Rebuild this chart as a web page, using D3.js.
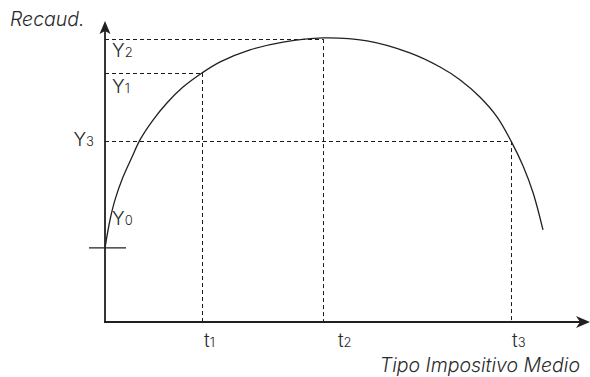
<!DOCTYPE html>
<html><head><meta charset="utf-8">
<script src="https://cdn.jsdelivr.net/npm/d3@7"></script>
<style>
html,body{margin:0;padding:0;background:#fff;}
text{font-family:"Inter","Liberation Sans",sans-serif;font-weight:300;fill:#2a2a2a;}
</style></head>
<body>
<svg id="chart" width="590" height="377"></svg>
<script>
// Curve: tax rate (x) vs revenue (y), arbitrary units 0..100
const curveX = [0, 1.04, 2.08, 3.75, 5.63, 7.29, 10, 12.9, 16.25, 20.2, 24, 30.2, 37.1, 45.4, 54.6, 63.5, 69.8, 74, 78.1, 81.7, 84.6, 87.1, 89.2, 91.25];
const curveY = [24.7, 34, 40.7, 48.3, 55, 60.7, 67.3, 73, 78.3, 83, 86.7, 90.7, 93.3, 94.7, 93.7, 89.7, 85, 80.7, 75, 68.3, 60.3, 52, 43, 30.7];
// Reference levels
const tLabels = ["1", "2", "3"];
const tValues = [20.2, 45.4, 84.6];
const yLabels = ["1", "2", "3"];
const yValues = [83, 94.3, 60.3];
const y0Value = 24.7;
const xTitle = "Tipo Impositivo Medio";
const yTitle = "Recaud.";

const svg = d3.select("#chart");
const x = d3.scaleLinear().domain([0, 100]).range([105, 585]);
const y = d3.scaleLinear().domain([0, 100]).range([322, 22]);
const ink = "#231f20";
const crisp = v => Math.round(v) + 0.5;

// dashed guides
const guides = svg.append("g").attr("stroke", "#1a1a1a").attr("stroke-width", 1).attr("stroke-dasharray", "4,3").attr("fill", "none");
tValues.forEach((t, i) => {
  guides.append("line").attr("x1", x(0)).attr("x2", x(t)).attr("y1", crisp(y(yValues[i]))).attr("y2", crisp(y(yValues[i])));
  guides.append("line").attr("x1", crisp(x(t))).attr("x2", crisp(x(t))).attr("y1", y(yValues[i])).attr("y2", y(0));
});

// curve
const pts = curveX.map((d, i) => [d, curveY[i]]);
svg.append("path").datum(pts)
  .attr("d", d3.line().x(d => x(d[0])).y(d => y(d[1])).curve(d3.curveCatmullRom.alpha(0.5)))
  .attr("fill", "none").attr("stroke", ink).attr("stroke-width", 1.3);

// axes
svg.append("line").attr("x1", x(0)).attr("x2", x(0)).attr("y1", y(0) + 1).attr("y2", 30)
  .attr("stroke", ink).attr("stroke-width", 1.8);
svg.append("line").attr("x1", x(0) - 1).attr("x2", 580).attr("y1", y(0)).attr("y2", y(0))
  .attr("stroke", ink).attr("stroke-width", 1.8);
// arrowheads
const ax = x(0), ay = 21;
svg.append("path").attr("d", `M${ax},${ay} L${ax + 5.5},${ay + 13} L${ax},${ay + 10} L${ax - 5.5},${ay + 13} Z`).attr("fill", ink);
const bx = 590, by = y(0);
svg.append("path").attr("d", `M${bx},${by} L${bx - 14},${by - 6} L${bx - 10},${by} L${bx - 14},${by + 6} Z`).attr("fill", ink);
// Y0 tick
svg.append("line").attr("x1", 89).attr("x2", 126).attr("y1", y(y0Value)).attr("y2", y(y0Value))
  .attr("stroke", ink).attr("stroke-width", 1.3);

// labels
function sub(g, px, py, main, s, anchor) {
  const t = g.append("text").attr("x", px).attr("y", py).attr("font-size", 19).attr("text-anchor", anchor || "start");
  t.append("tspan").text(main);
  t.append("tspan").attr("font-size", 13).text(s);
  return t;
}
sub(svg, 112, 57, "Y", yLabels[1]);
sub(svg, 112, 93, "Y", yLabels[0]);
sub(svg, 94, 146, "Y", yLabels[2], "end");
sub(svg, 112, 225, "Y", "0");
const tOff = [2, 15, 1];
tValues.forEach((t, i) => sub(svg, x(t) + tOff[i], 347, "t", tLabels[i]));

svg.append("text").attr("x", 10).attr("y", 26).attr("font-size", 19.5).attr("font-style", "italic").text(yTitle);
svg.append("text").attr("x", 580).attr("y", 372).attr("font-size", 19.5).attr("font-style", "italic").attr("text-anchor", "end").text(xTitle);
</script>
</body></html>
